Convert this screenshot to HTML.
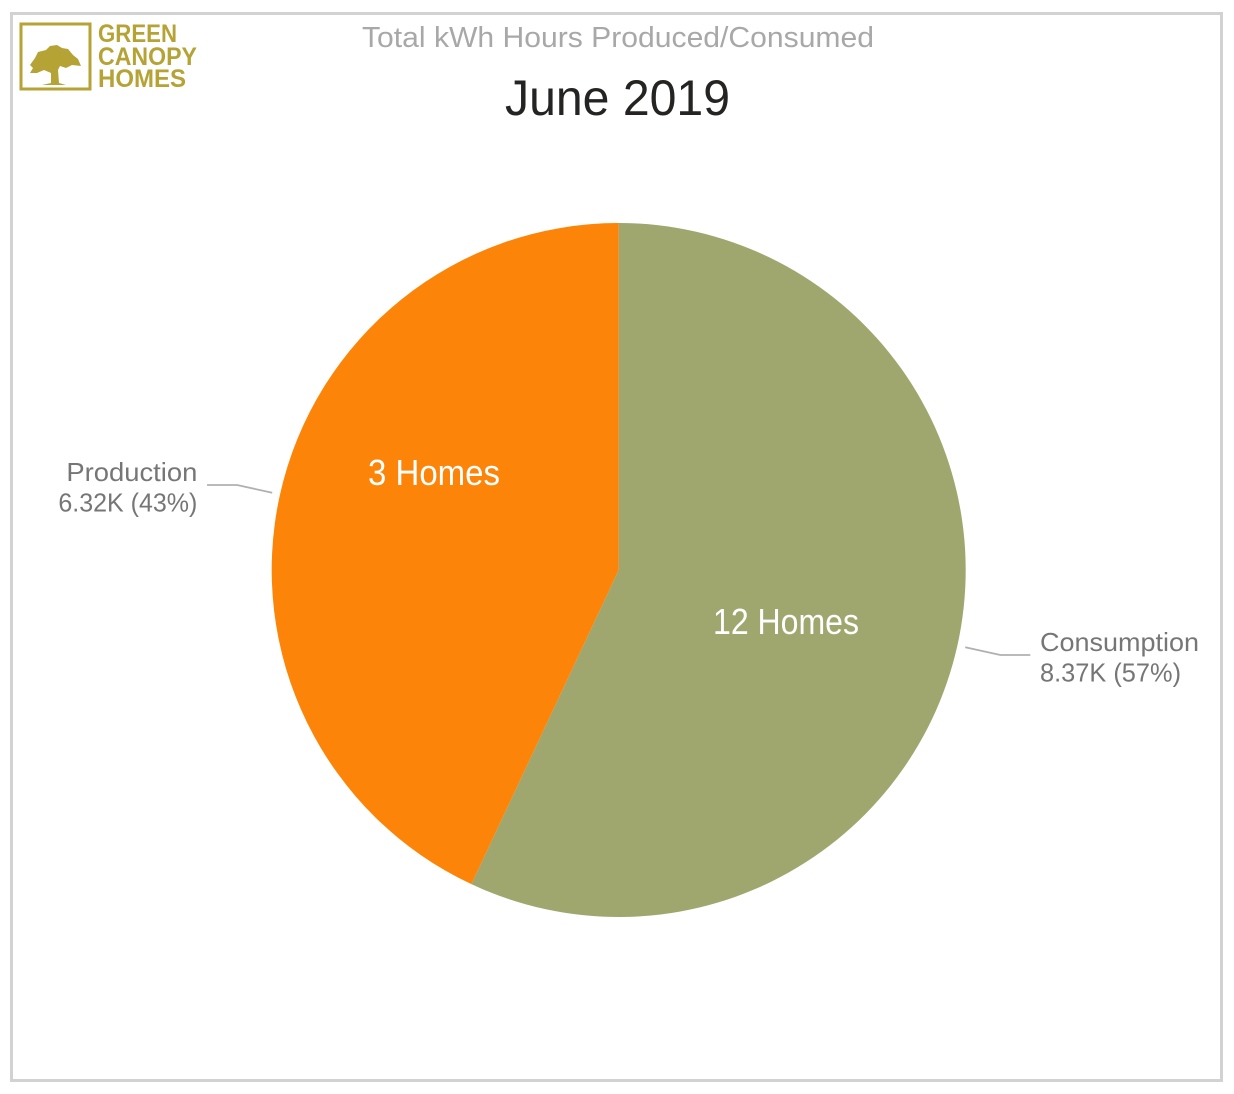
<!DOCTYPE html>
<html lang="en">
<head>
<meta charset="utf-8">
<title>June 2019 kWh Produced/Consumed</title>
<style>
  html, body { margin: 0; padding: 0; background: #fff; }
  svg { display: block; font-family: "Liberation Sans", sans-serif; }
</style>
</head>
<body>
<svg id="chart" width="1234" height="1094" viewBox="0 0 1234 1094" xmlns="http://www.w3.org/2000/svg">
  <rect x="0" y="0" width="1234" height="1094" fill="#ffffff"/>
  <rect x="11.5" y="13.5" width="1210" height="1067" fill="none" stroke="#d2d2d2" stroke-width="3"/>

  <g>
    <rect x="21" y="24" width="69" height="65" fill="none" stroke="#b5a336" stroke-width="3"/>
    <g fill="#b5a336">
      <path d="M35 58 L38 52 L46 50 L50 46 L57 45 L62 48 L68 49 L73 55 L78 59 L81 66 L72 65 L66 68 L60 66 L58 70 L59 83 L66 85 L42 85 L51 83 L51 73 L44 70 L37 73 L30 73 L33 68 L30 65 Z"/>
    </g>
    <text x="98" y="42" font-size="25" font-weight="700" fill="#b5a336" textLength="79" lengthAdjust="spacingAndGlyphs">GREEN</text>
    <text x="98" y="65" font-size="25" font-weight="700" fill="#b5a336" textLength="99" lengthAdjust="spacingAndGlyphs">CANOPY</text>
    <text x="98" y="87" font-size="25" font-weight="700" fill="#b5a336" textLength="88" lengthAdjust="spacingAndGlyphs">HOMES</text>
  </g>

  <text x="362" y="47" font-size="29" fill="#a8a8a8" textLength="512" lengthAdjust="spacingAndGlyphs">Total kWh Hours Produced/Consumed</text>
  <text x="505" y="115" font-size="50" fill="#252423" textLength="225" lengthAdjust="spacingAndGlyphs">June 2019</text>

  <g id="slices"></g>
  <g id="leaders"></g>
  <g id="labels"></g>

  <text x="368" y="485" font-size="36" fill="#ffffff" textLength="132" lengthAdjust="spacingAndGlyphs">3 Homes</text>
  <text x="713" y="634" font-size="36" fill="#ffffff" textLength="146" lengthAdjust="spacingAndGlyphs">12 Homes</text>
</svg>

<script>
const categories = ['Consumption', 'Production'];
const seriesValues = [8370, 6320];
const valueLabels = ['8.37K', '6.32K'];
const sliceColors = ['#9fa76f', '#fc8408'];
const labelWidths = [[159, 141], [131, 139]];

const NS = 'http://www.w3.org/2000/svg';
const cx = 618.7, cy = 570, radius = 347;
const total = seriesValues.reduce(function (a, b) { return a + b; }, 0);

function angleOf(value) {
  return (value / total) * Math.PI * 2;
}
function polar(r, angle) {
  return [cx + r * Math.sin(angle), cy - r * Math.cos(angle)];
}

const slicesGroup = document.getElementById('slices');
const leadersGroup = document.getElementById('leaders');
const labelsGroup = document.getElementById('labels');

let startAngle = 0;
seriesValues.forEach(function (value, i) {
  const sweep = angleOf(value);
  const endAngle = startAngle + sweep;
  const midAngle = startAngle + sweep / 2;
  const p0 = polar(radius, startAngle);
  const p1 = polar(radius, endAngle);
  const largeArc = sweep > Math.PI ? 1 : 0;
  const key = categories[i].toLowerCase();

  const slice = document.createElementNS(NS, 'path');
  slice.setAttribute('d', 'M' + cx + ' ' + cy + 'L' + p0[0] + ' ' + p0[1] +
    'A' + radius + ' ' + radius + ' 0 ' + largeArc + ' 1 ' + p1[0] + ' ' + p1[1] + 'Z');
  slice.setAttribute('fill', sliceColors[i]);
  
  
  slicesGroup.appendChild(slice);

  const side = Math.sin(midAngle) >= 0 ? 1 : -1;
  const a = polar(radius + 8, midAngle);
  const b = polar(radius + 44, midAngle);
  const c = [b[0] + side * 30, b[1]];

  const leader = document.createElementNS(NS, 'polyline');
  leader.setAttribute('points', a.join(',') + ' ' + b.join(',') + ' ' + c.join(','));
  leader.setAttribute('fill', 'none');
  leader.setAttribute('stroke', '#b0b0b0');
  leader.setAttribute('stroke-width', '1.8');
  
  
  leadersGroup.appendChild(leader);

  const pct = Math.round((value / total) * 100);
  const lines = [categories[i], valueLabels[i] + ' (' + pct + '%)'];
  const labelX = c[0] + side * 9.7;
  lines.forEach(function (line, j) {
    const t = document.createElementNS(NS, 'text');
    t.textContent = line;
    t.setAttribute('x', labelX);
    t.setAttribute('y', b[1] - 4 + j * 30.5);
    t.setAttribute('font-size', '26');
    t.setAttribute('fill', '#767676');
    t.setAttribute('text-anchor', side > 0 ? 'start' : 'end');
    t.setAttribute('textLength', labelWidths[i][j]);
    t.setAttribute('lengthAdjust', 'spacingAndGlyphs');
    
    
    labelsGroup.appendChild(t);
  });

  startAngle = endAngle;
});
</script>
</body>
</html>
